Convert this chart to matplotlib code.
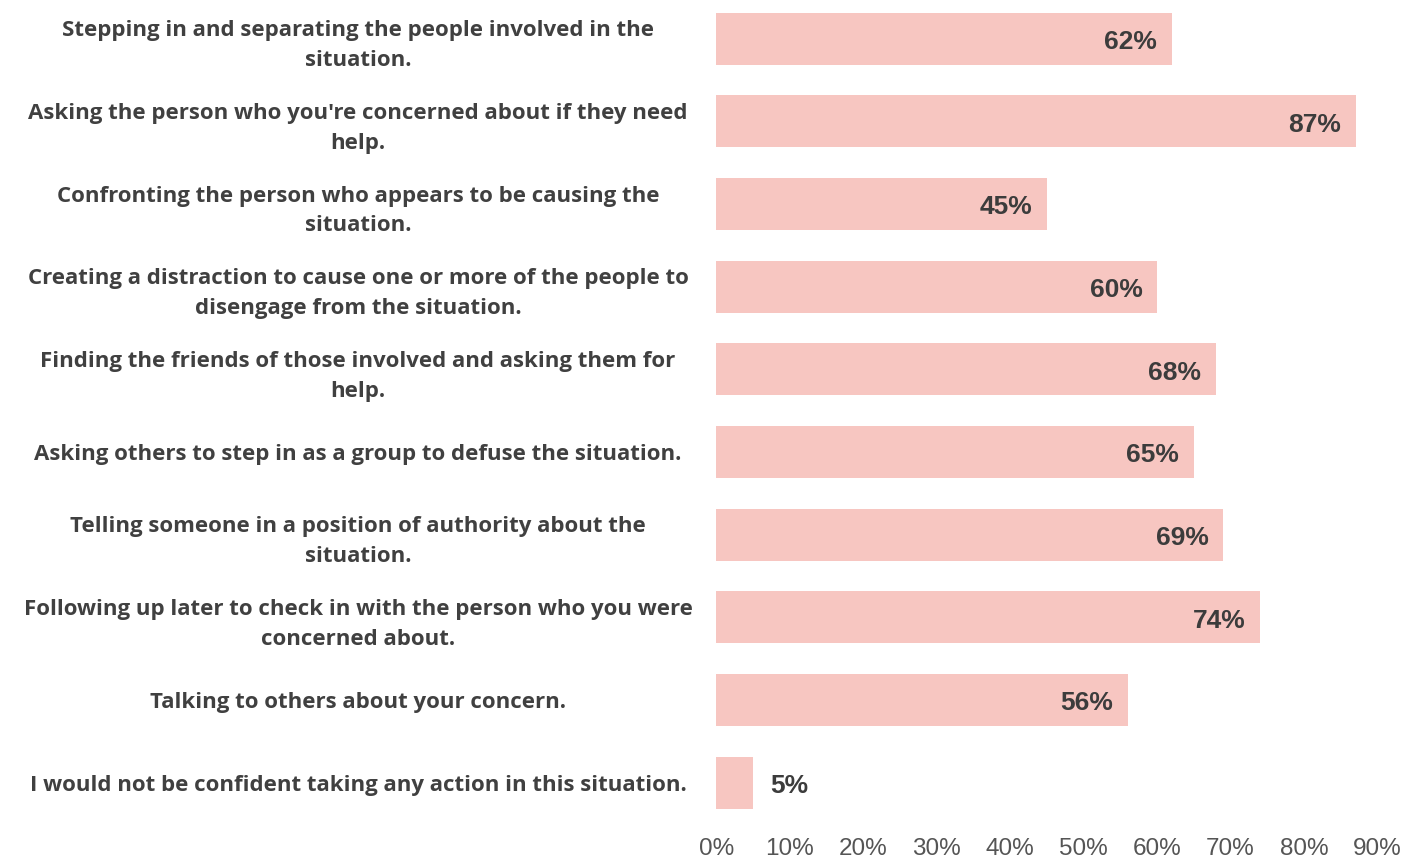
import matplotlib
matplotlib.use("Agg")
import matplotlib.pyplot as plt

labels = [
    "Stepping in and separating the people involved in the\nsituation.",
    "Asking the person who you're concerned about if they need\nhelp.",
    "Confronting the person who appears to be causing the\nsituation.",
    "Creating a distraction to cause one or more of the people to\ndisengage from the situation.",
    "Finding the friends of those involved and asking them for\nhelp.",
    "Asking others to step in as a group to defuse the situation.",
    "Telling someone in a position of authority about the\nsituation.",
    "Following up later to check in with the person who you were\nconcerned about.",
    "Talking to others about your concern.",
    "I would not be confident taking any action in this situation.",
]
values = [62, 87, 45, 60, 68, 65, 69, 74, 56, 5]
ticks = [0, 10, 20, 30, 40, 50, 60, 70, 80, 90]

fig = plt.figure(figsize=(14.1, 8.6), dpi=100)
ax = fig.add_axes([0.508, 0.042, 0.469, 0.961])

pos = list(range(len(values)))
ax.barh(pos, values, height=0.63, color="#f7c6c1")
ax.set_ylim(len(values) - 0.5, -0.5)
ax.set_xlim(0, 90)

for p, v in zip(pos, values):
    if v > 10:
        ax.text(v - 2.0, p + 0.04, f"{v}%", ha="right", va="center",
                fontsize=19, fontweight="bold", color="#3c3c3c",
                family="Liberation Sans")
    else:
        ax.text(v + 2.4, p + 0.04, f"{v}%", ha="left", va="center",
                fontsize=19, fontweight="bold", color="#3c3c3c",
                family="Liberation Sans")

ax.set_yticks(pos)
ax.set_yticklabels(labels, fontsize=16, fontweight="bold", color="#404040",
                   family="Open Sans", ha="center", linespacing=1.55)
ax.tick_params(axis="y", length=0, pad=258)
ax.set_xticks(ticks)
ax.set_xticklabels([f"{t}%" for t in ticks], fontsize=17.5, color="#555555",
                   family="Liberation Sans")
ax.tick_params(axis="x", length=0, pad=10)
for s in ax.spines.values():
    s.set_visible(False)

fig.savefig("out.png", dpi=100)
